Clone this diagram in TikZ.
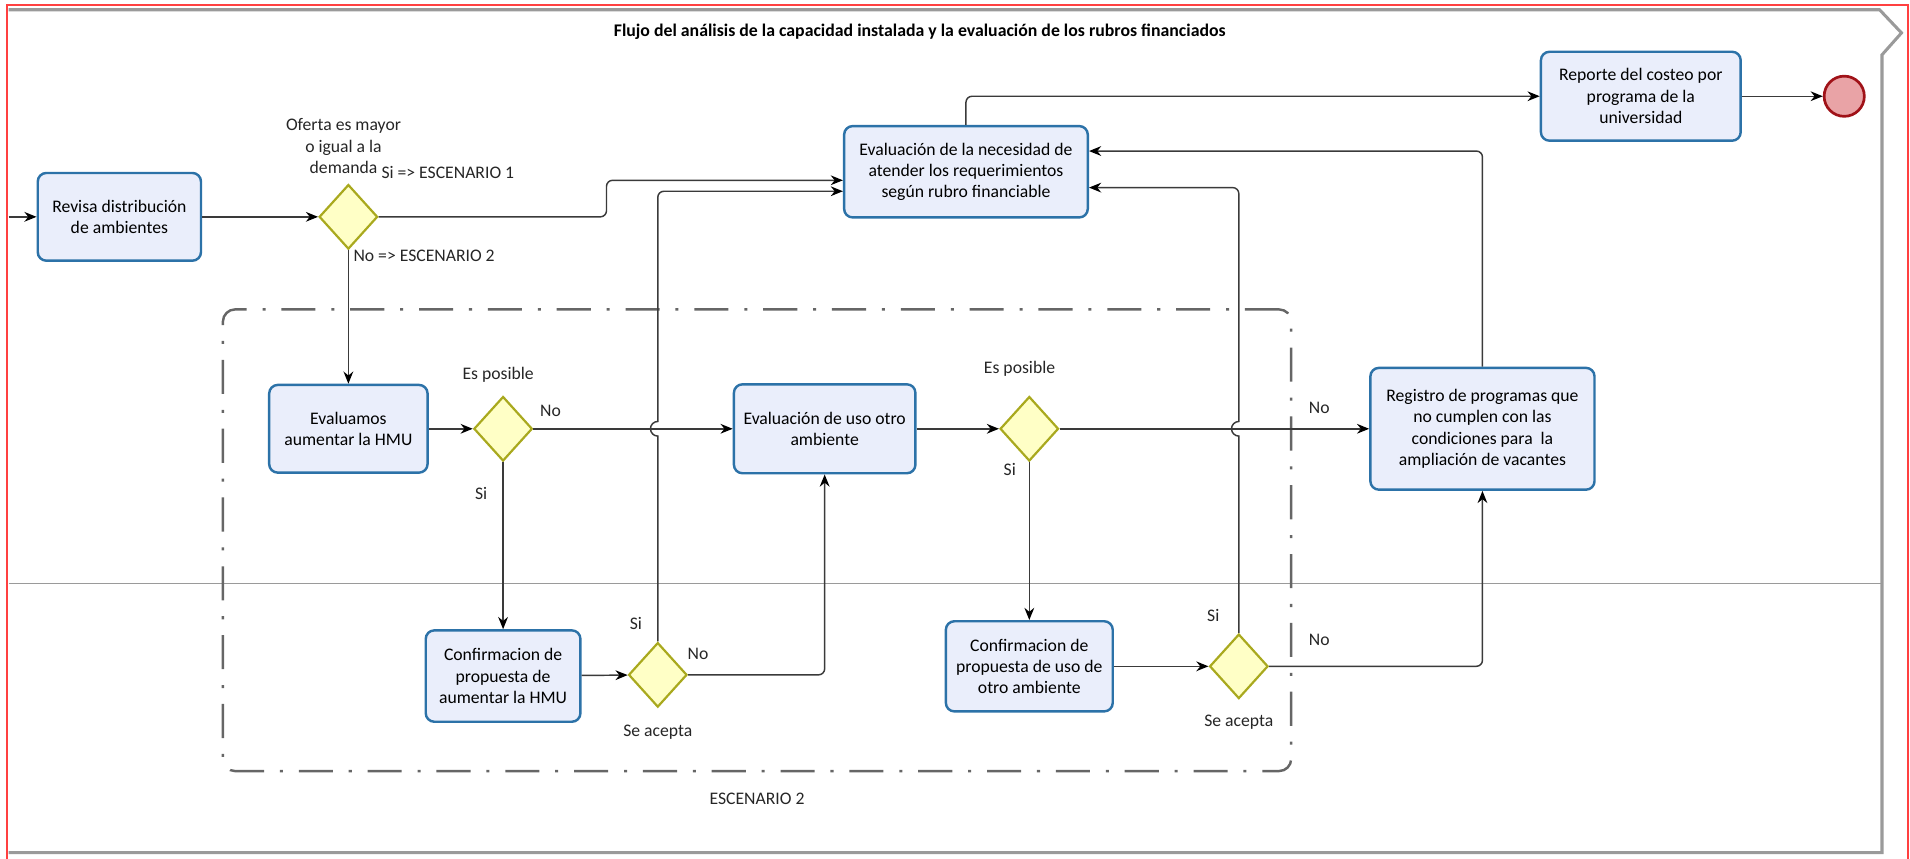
\documentclass[tikz,border=0pt]{standalone}
\usepackage{fontspec}
\setmainfont{Carlito}
\usepackage{tikz}
\usetikzlibrary{positioning,shapes.geometric,arrows.meta,calc}
\definecolor{tareafondo}{HTML}{EAEEFB}
\definecolor{tareaborde}{HTML}{2C72A8}
\definecolor{compfondo}{HTML}{FFFFC6}
\definecolor{compborde}{HTML}{A9A91E}
\definecolor{finfondo}{HTML}{E9A3A6}
\definecolor{finborde}{HTML}{A01218}
\definecolor{linea}{HTML}{3A3A3A}
\definecolor{marco}{HTML}{9A9A9A}
\tikzset{%
	tarea/.style     = {draw=tareaborde, fill=tareafondo, line width=2pt,
		rounded corners=7pt, align=center, inner sep=2pt},
	compuerta/.style = {diamond, draw=compborde, fill=compfondo, line width=1.8pt,
		minimum width=48pt, minimum height=53pt, inner sep=0pt},
	etiqueta/.style  = {text=black!85, inner sep=0pt, align=center},
	flujo/.style     = {draw=linea, line width=1.2pt, ->}
}

\begin{document}
\begin{tikzpicture}[x=1pt, y=-1pt,
          >={Stealth[length=10pt,width=8pt,color=black]},
          every node/.append style={font=\fontsize{14.5}{17.5}\selectfont}]
        \useasboundingbox (0,0) rectangle (1568,705);
        % marco y pool
        \draw[red!75, line width=1.5pt] (5.5,705) -- (5.5,4) -- (1566,4) -- (1566,705);
        \draw[marco, line width=2.5pt] (7,8) -- (1543,8) -- (1561,27) -- (1545,45) -- (1545,700) -- (7,700);
        \draw[marco, line width=1.5pt] (7,479) -- (1545,479);
        \node[font=\bfseries\fontsize{14.6}{17}\selectfont, name=titulo] at (755,26)
        	{Flujo del análisis de la capacidad instalada y la evaluación de los rubros financiados};

        % escenario 2
        \node[draw=black!60, line width=2pt, rounded corners=10pt,
        	dash pattern=on 28pt off 13pt on 2.5pt off 13pt,
        	minimum width=877pt, minimum height=379pt] (esc2) at (621.5,443.5) {};
        \node[etiqueta, below=17pt of esc2] (esc2lbl) {ESCENARIO 2};

        \draw
        	node at (98,178)[tarea, name=revisa, minimum width=134pt, minimum height=72pt]
        		{Revisa distribución\\de ambientes}
        	node at (286,178)[compuerta, name=gw1]{}
        	node at (793,141)[tarea, name=eval, minimum width=200pt, minimum height=75pt]
        		{Evaluación de la necesidad de\\atender los requerimientos\\según rubro financiable}
        	node at (1347,79)[tarea, name=reporte, minimum width=164pt, minimum height=73pt]
        		{Reporte del costeo por\\programa de la\\universidad}
        	node at (1514,79)[circle, draw=finborde, fill=finfondo, line width=2.2pt,
        		minimum size=33pt, name=fin]{}

        	node at (286,352)[tarea, name=evaluamos, minimum width=130pt, minimum height=72pt]
        		{Evaluamos\\aumentar la HMU}
        	node at (413,352)[compuerta, name=gw2]{}
        	node at (677,352)[tarea, name=usoamb, minimum width=149pt, minimum height=73pt]
        		{Evaluación de uso otro\\ambiente}
        	node at (845,352)[compuerta, name=gw4]{}
        	node at (1217,352)[tarea, name=registro, minimum width=184pt, minimum height=100pt]
        		{Registro de programas que\\no cumplen con las\\condiciones para \ la\\ampliación de vacantes}

        	node at (413,555)[tarea, name=confhmu, minimum width=127pt, minimum height=75pt]
        		{Confirmacion de\\propuesta de\\aumentar la HMU}
        	node at (540,554)[compuerta, name=gw3]{}
        	node at (845,547)[tarea, name=confuso, minimum width=137pt, minimum height=74pt]
        		{Confirmacion de\\propuesta de uso de\\otro ambiente}
        	node at (1017,547)[compuerta, name=gw5]{};

        % etiquetas de compuertas
        \node[etiqueta] (gw1q) at (282,120) {Oferta es mayor\\o igual a la\\demanda};
        \node[etiqueta, anchor=west] (gw1si) at (313,142) {Si => ESCENARIO 1};
        \node[etiqueta, anchor=west] (gw1no) at (290,210) {No => ESCENARIO 2};
        \node[etiqueta] (gw2q) at (409,308) {Es posible};
        \node[etiqueta] (gw2no) at (452,337) {No};
        \node[etiqueta] (gw2si) at (395,405) {Si};
        \node[etiqueta] (gw3si) at (522,512) {Si};
        \node[etiqueta] (gw3no) at (573,537) {No};
        \node[etiqueta] (gw3q) at (540,601) {Se acepta};
        \node[etiqueta] (gw4q) at (837,303) {Es posible};
        \node[etiqueta] (gw4si) at (829,385) {Si};
        \node[etiqueta] (gw4no) at (1083,335) {No};
        \node[etiqueta] (gw5si) at (996,505) {Si};
        \node[etiqueta] (gw5no) at (1083,525) {No};
        \node[etiqueta] (gw5q) at (1017,593) {Se acepta};

        % conectores
        \coordinate (entrada) at (7,178);
        \draw[flujo] (entrada) -- (revisa);
        \draw[flujo] (revisa) -- (gw1);
        \draw[flujo, rounded corners=5pt] (gw1.east) -- ++(187,0) |- ($(eval.west)+(0,7)$);
        \draw[flujo] (gw1.south) -- (evaluamos.north);
        \draw[flujo, rounded corners=5pt] (eval.north) |- (reporte.west);
        \draw[flujo] (reporte) -- (fin);

        \draw[flujo] (evaluamos) -- (gw2);
        \draw[flujo] (gw2.east) -- (usoamb.west);
        \draw[flujo] (gw2.south) -- (confhmu.north);
        \draw[flujo] (confhmu) -- (gw3);
        \draw[flujo, rounded corners=5pt] (gw3.east) -| (usoamb.south);
        \draw[flujo] (gw3.north) -- ($(gw3.north |- gw2.east)+(0,6)$)
        	arc[start angle=90, end angle=270, radius=6]
        	[rounded corners=5pt] |- ($(eval.west)+(0,16)$);

        \draw[flujo] (usoamb) -- (gw4);
        \draw[flujo] (gw4.east) -- (registro.west);
        \draw[flujo] (gw4.south) -- (confuso.north);
        \draw[flujo] (confuso) -- (gw5);
        \draw[flujo, rounded corners=5pt] (gw5.east) -| (registro.south);
        \draw[flujo] (gw5.north) -- ($(gw5.north |- gw4.east)+(0,6)$)
        	arc[start angle=90, end angle=270, radius=6]
        	[rounded corners=5pt] |- ($(eval.east)+(0,13)$);
        \draw[flujo, rounded corners=5pt] (registro.north) |- ($(eval.east)+(0,-17)$);
    \end{tikzpicture}
\end{document}
